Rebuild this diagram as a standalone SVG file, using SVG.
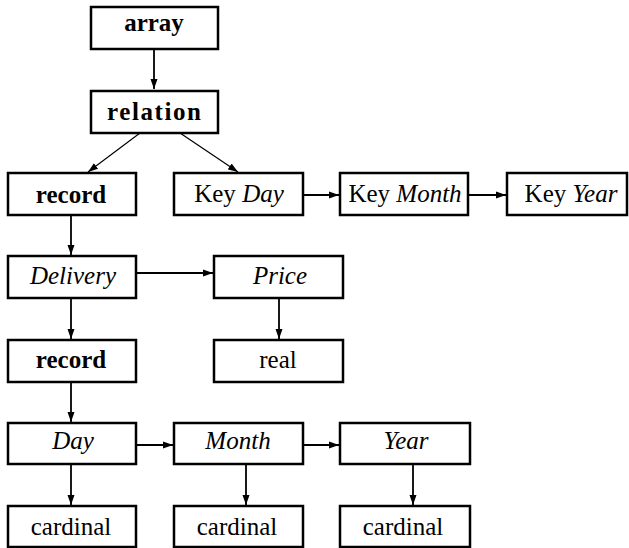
<svg xmlns="http://www.w3.org/2000/svg" width="629" height="548" viewBox="0 0 629 548">
  <style>
    .box { fill: #fff; stroke: #000; stroke-width: 2.5; }
    .t { font-family: "Liberation Serif", "Times New Roman", serif; font-size: 25px; text-anchor: middle; fill: #000; }
    .b { font-weight: bold; }
    .i { font-style: italic; }
    .edge { stroke: #000; stroke-width: 1.8; fill: none; marker-end: url(#ah); }
    .thin { stroke-width: 1.2; }
  </style>
  <defs>
    <marker id="ah" markerUnits="userSpaceOnUse" markerWidth="11" markerHeight="9" refX="10" refY="4.5" orient="auto">
      <path d="M0,1 L10,4.5 L0,8 Z" fill="#000"/>
    </marker>
  </defs>
  <rect width="629" height="548" fill="#fff"/>

  <g id="connectors">
    <line class="edge" x1="154" y1="49" x2="154" y2="89"/>
    <line class="edge thin" x1="140" y1="133" x2="88" y2="172"/>
    <line class="edge thin" x1="180" y1="133" x2="238" y2="172"/>
    <line class="edge" x1="300" y1="195" x2="339" y2="195"/>
    <line class="edge" x1="466" y1="195" x2="506" y2="195"/>
    <line class="edge" x1="71" y1="215" x2="71" y2="255"/>
    <line class="edge" x1="133" y1="273" x2="213" y2="273"/>
    <line class="edge" x1="71" y1="298" x2="71" y2="339"/>
    <line class="edge" x1="279" y1="298" x2="279" y2="339"/>
    <line class="edge" x1="71" y1="382" x2="71" y2="422"/>
    <line class="edge" x1="133" y1="445" x2="173" y2="445"/>
    <line class="edge" x1="300" y1="445" x2="339" y2="445"/>
    <line class="edge" x1="71" y1="464" x2="71" y2="505"/>
    <line class="edge" x1="246" y1="464" x2="246" y2="505"/>
    <line class="edge" x1="413" y1="464" x2="413" y2="505"/>
  </g>

  <g id="array">
    <rect class="box" x="91" y="7" width="127" height="42"/>
    <text class="t b" x="154" y="31">array</text>
  </g>
  <g id="relation">
    <rect class="box" x="91" y="91" width="127" height="42"/>
    <text class="t b" x="154" y="120" textLength="94">relation</text>
  </g>
  <g id="record1">
    <rect class="box" x="8" y="173" width="128" height="42"/>
    <text class="t b" x="71" y="203">record</text>
  </g>
  <g id="keyDay">
    <rect class="box" x="174" y="173" width="129" height="42"/>
    <text class="t" x="239" y="202">Key <tspan class="i">Day</tspan></text>
  </g>
  <g id="keyMonth">
    <rect class="box" x="340" y="173" width="128" height="42"/>
    <text class="t" x="405" y="202">Key <tspan class="i">Month</tspan></text>
  </g>
  <g id="keyYear">
    <rect class="box" x="507" y="173" width="120" height="42"/>
    <text class="t" x="571" y="202">Key <tspan class="i">Year</tspan></text>
  </g>
  <g id="delivery">
    <rect class="box" x="8" y="256" width="128" height="42"/>
    <text class="t i" x="73" y="284">Delivery</text>
  </g>
  <g id="price">
    <rect class="box" x="214" y="256" width="129" height="42"/>
    <text class="t i" x="280" y="284">Price</text>
  </g>
  <g id="record2">
    <rect class="box" x="8" y="340" width="128" height="42"/>
    <text class="t b" x="71" y="368">record</text>
  </g>
  <g id="real">
    <rect class="box" x="214" y="340" width="129" height="42"/>
    <text class="t" x="278" y="368">real</text>
  </g>
  <g id="day">
    <rect class="box" x="8" y="423" width="128" height="41"/>
    <text class="t i" x="73" y="449">Day</text>
  </g>
  <g id="month">
    <rect class="box" x="174" y="423" width="129" height="41"/>
    <text class="t i" x="238" y="449">Month</text>
  </g>
  <g id="year">
    <rect class="box" x="340" y="423" width="130" height="41"/>
    <text class="t i" x="406" y="449">Year</text>
  </g>
  <g id="cardinal1">
    <rect class="box" x="8" y="506" width="128" height="41"/>
    <text class="t" x="71" y="535">cardinal</text>
  </g>
  <g id="cardinal2">
    <rect class="box" x="174" y="506" width="129" height="41"/>
    <text class="t" x="237" y="535">cardinal</text>
  </g>
  <g id="cardinal3">
    <rect class="box" x="340" y="506" width="130" height="41"/>
    <text class="t" x="403" y="535">cardinal</text>
  </g>
</svg>
